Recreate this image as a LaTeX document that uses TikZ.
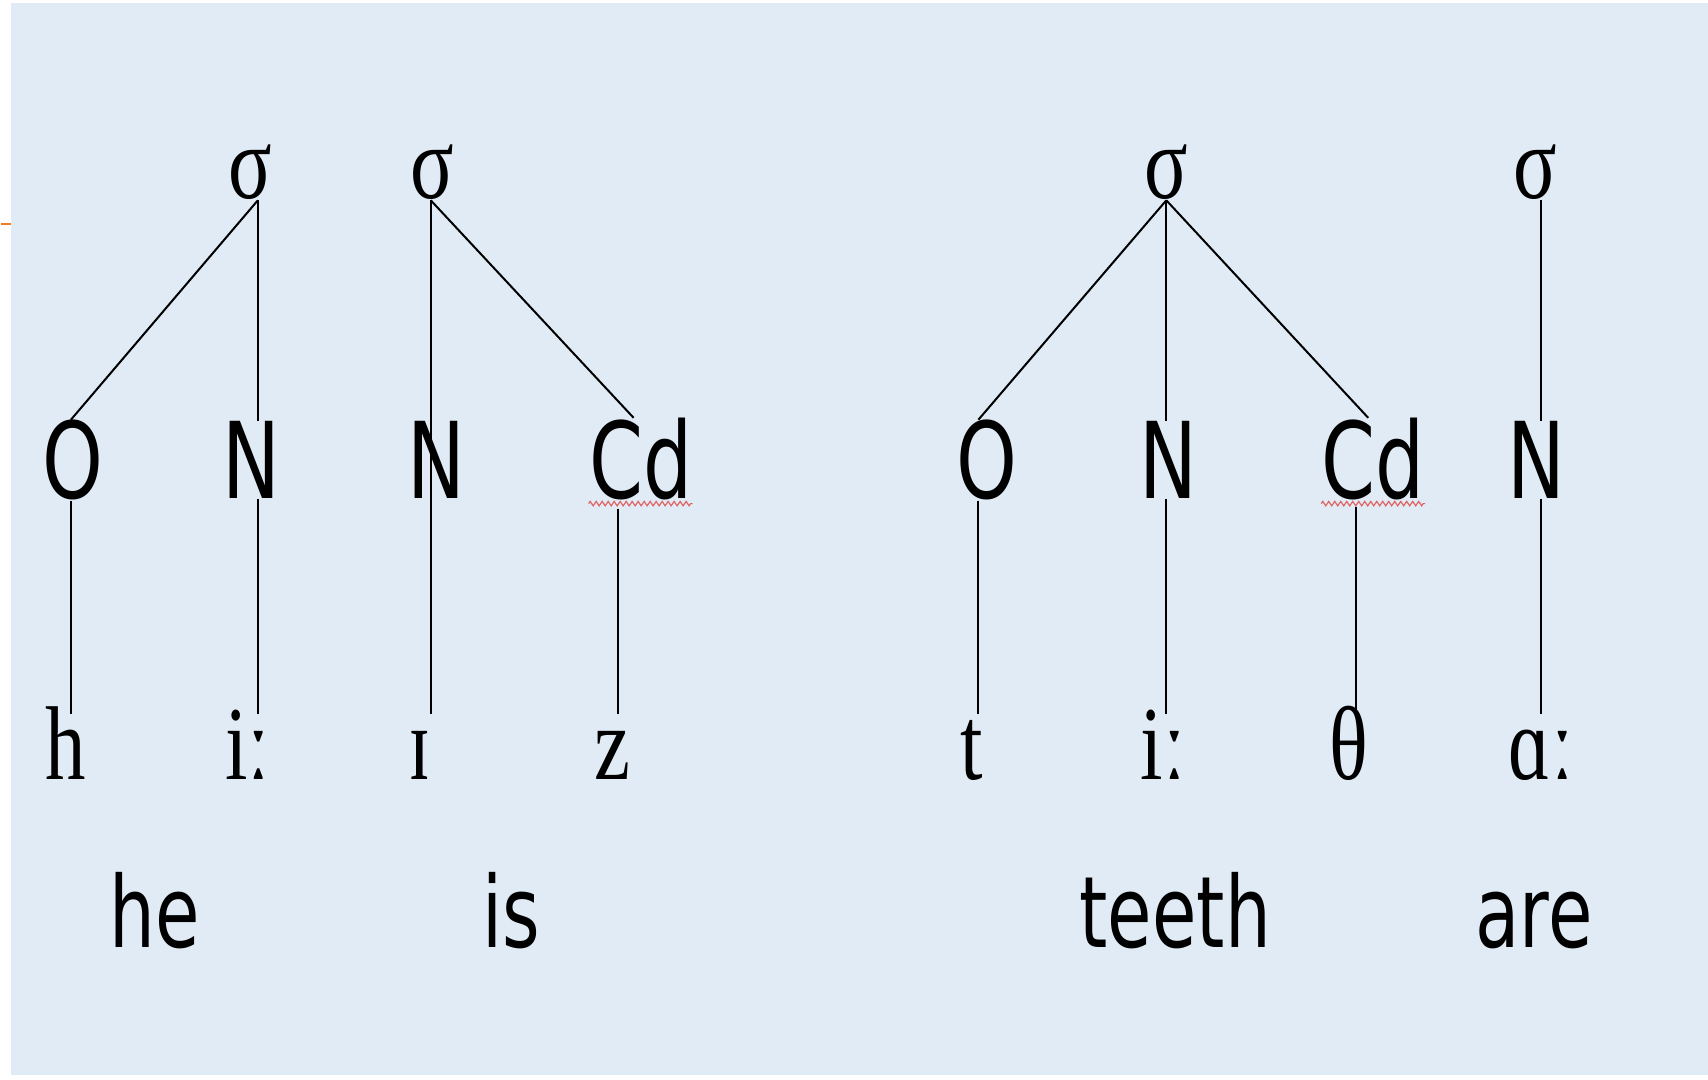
\documentclass[tikz,border=0pt]{standalone}
\usepackage{fontspec}
\setmainfont{Liberation Serif}
\setsansfont{DejaVu Sans}
\usetikzlibrary{decorations.pathmorphing}

\definecolor{slidebg}{HTML}{E1EBF5}
\definecolor{accent}{HTML}{F07D1E}
\definecolor{squiggle}{HTML}{E06464}

% horizontally condensed text
\newcommand{\serifnarrow}[1]{\scalebox{0.77}[1]{#1}}
\newcommand{\sansnarrow}[1]{\scalebox{0.73}[1]{#1}}

\tikzset{
  syl/.style={inner sep=0pt, anchor=base, font=\fontsize{52.5}{52.5}\selectfont},
  lab/.style={inner sep=0pt, anchor=base, font=\sffamily\fontsize{53}{53}\selectfont},
  seg/.style={inner sep=0pt, anchor=base, text height=32.5pt, font=\fontsize{52.5}{52.5}\selectfont},
  word/.style={inner sep=0pt, anchor=base, font=\sffamily\fontsize{49.5}{49.5}\selectfont},
  link/.style={draw=black, line width=1pt},
  spell/.style={draw=squiggle, line width=0.6pt, decorate,
    decoration={zigzag, segment length=3pt, amplitude=1.1pt}}
}

\begin{document}
\begin{tikzpicture}[x=0.5pt, y=-0.5pt]
  % page and slide background
  \fill[white] (0,0) rectangle (1708,1080);
  \fill[slidebg] (10,3) rectangle (1708,1076);
  \draw[accent, line width=1pt] (0,224) -- (10,224);

  % syllable nodes
  \node[syl] (s1) at (249,199) {\serifnarrow{σ}};
  \node[syl] (s2) at (432,199) {\serifnarrow{σ}};
  \node[syl] (s3) at (1166,199) {\serifnarrow{σ}};
  \node[syl] (s4) at (1535,199) {\serifnarrow{σ}};

  % constituent labels
  \node[lab] (o1) at (72,499)   {\sansnarrow{O}};
  \node[lab] (n1) at (251,499)  {\sansnarrow{N}};
  \node[lab] (n2) at (436,499)  {\sansnarrow{N}};
  \node[lab] (c2) at (640,499)  {\sansnarrow{Cd}};
  \node[lab] (o3) at (987,499)  {\sansnarrow{O}};
  \node[lab] (n3) at (1168,499) {\sansnarrow{N}};
  \node[lab] (c3) at (1373,499) {\sansnarrow{Cd}};
  \node[lab] (n4) at (1536,499) {\sansnarrow{N}};

  % segments
  \node[seg] (p1) at (65,780)   {\serifnarrow{h}};
  \node[seg] (p2) at (247,780)  {\serifnarrow{iː}};
  \node[seg] (p3) at (419,780)  {\serifnarrow{ɪ}};
  \node[seg] (p4) at (612,780)  {\serifnarrow{z}};
  \node[seg] (p5) at (971,780)  {\serifnarrow{t}};
  \node[seg] (p6) at (1163,780) {\serifnarrow{iː}};
  \node[seg] (p7) at (1349,780) {\serifnarrow{θ}};
  \node[seg] (p8) at (1541,780) {\serifnarrow{ɑː}};

  % words
  \node[word] (w1) at (154,948)  {\sansnarrow{he}};
  \node[word] (w2) at (511,948)  {\sansnarrow{is}};
  \node[word] (w3) at (1175,948) {\sansnarrow{teeth}};
  \node[word] (w4) at (1534,948) {\sansnarrow{are}};

  % columns of the vertical association lines
  \coordinate (ka) at (257,0);
  \coordinate (kb) at (70,0);
  \coordinate (kc) at (430,0);
  \coordinate (kd) at (617,0);
  \coordinate (ke) at (978,0);
  \coordinate (kf) at (1166,0);
  \coordinate (kg) at (1356,0);
  \coordinate (kh) at (1541,0);

  % spell-check underlines
  \draw[spell] ([yshift=-1.5pt]c2.south west) -- ([yshift=-1.5pt]c2.south east);
  \draw[spell] ([yshift=-1.5pt]c3.south west) -- ([yshift=-1.5pt]c3.south east);

  % he
  \draw[link] (ka |- s1.south) -- (kb |- o1.north);
  \draw[link] (ka |- s1.south) -- (ka |- n1.north);
  \draw[link] (kb |- o1.south) -- (kb |- p1.north);
  \draw[link] (ka |- n1.south) -- (ka |- p2.north);

  % is
  \draw[link] (kc |- s2.south) -- (kc |- p3.north);
  \draw[link] (kc |- s2.south) -- ([xshift=-3.5pt]c2.north);
  \draw[link] ([yshift=-4pt]kd |- c2.south) -- (kd |- p4.north);

  % teeth
  \draw[link] (kf |- s3.south) -- (ke |- o3.north);
  \draw[link] (kf |- s3.south) -- (kf |- n3.north);
  \draw[link] (kf |- s3.south) -- ([xshift=-2.5pt]c3.north);
  \draw[link] (ke |- o3.south) -- (ke |- p5.north);
  \draw[link] (kf |- n3.south) -- (kf |- p6.north);
  \draw[link] ([yshift=-3pt]kg |- c3.south) -- (kg |- p7.north);

  % are
  \draw[link] (kh |- s4.south) -- (kh |- n4.north);
  \draw[link] (kh |- n4.south) -- (kh |- p8.north);
\end{tikzpicture}
\end{document}
